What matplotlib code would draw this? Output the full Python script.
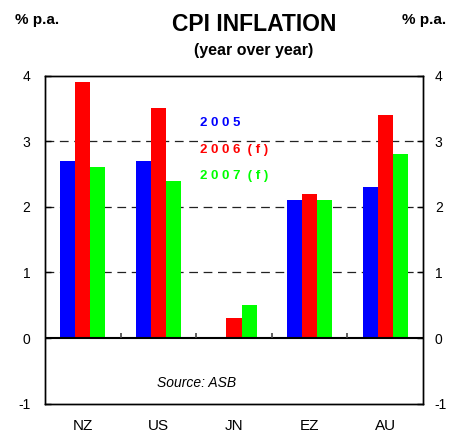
import matplotlib
matplotlib.use("Agg")
import matplotlib.pyplot as plt
import numpy as np

categories = ["NZ", "US", "JN", "EZ", "AU"]
series_names = ["2 0 0 5", "2 0 0 6  ( f )", "2 0 0 7  ( f )"]
v2005 = [2.7, 2.7, 0.0, 2.1, 2.3]
v2006 = [3.9, 3.5, 0.3, 2.2, 3.4]
v2007 = [2.6, 2.4, 0.5, 2.1, 2.8]
yticks = [-1, 0, 1, 2, 3, 4]
colors = ["#0000FF", "#FF0000", "#00FF00"]

plt.rcParams['font.family'] = ['Liberation Sans', 'DejaVu Sans']

fig = plt.figure(figsize=(4.5, 4.32), dpi=100)
ax = fig.add_axes([0.1, 0.0655, 0.84, 0.7597])

x = np.arange(len(categories))
w = 0.2
for i, (vals, c) in enumerate(zip([v2005, v2006, v2007], colors)):
    ax.bar(x + (i - 1) * w, vals, width=w, color=c, edgecolor='none', zorder=2)

ax.set_xlim(-0.5, len(categories) - 0.5)
ax.set_ylim(-1, 4)

for g in [1, 2, 3]:
    ax.axhline(g, color='#222222', lw=0.9, linestyle=(0, (7, 4.5)), zorder=1)
ax.axhline(0, color='black', lw=1.5, zorder=3)
bounds = x[:-1] + 0.5
ax.vlines(bounds, 0, 0.08, color='#444444', lw=1.2, zorder=3)

ax.set_xticks(x)
ax.set_xticklabels(categories, fontsize=11)
ax.tick_params(axis='x', length=0, pad=11)
ax.set_yticks(yticks)
ax.set_yticklabels([str(t) for t in yticks], fontsize=10)
ax.tick_params(axis='y', direction='in', length=4, pad=10.5, width=1)

ax2 = ax.twinx()
ax2.set_ylim(-1, 4)
ax2.set_yticks(yticks)
ax2.set_yticklabels([str(t) for t in yticks], fontsize=10)
ax2.tick_params(axis='y', direction='in', length=4, pad=8.5, width=1)

for a in (ax, ax2):
    for s in a.spines.values():
        s.set_linewidth(1.0)
        s.set_color('black')

legend_y = [3.28, 2.87, 2.47]
for name, c, yy in zip(series_names, colors, legend_y):
    ax.text(1.55, yy, name, color=c, fontsize=9.5, fontweight='bold',
            ha='left', va='center', zorder=4)

ax.text(1.51, -0.68, "Source: ASB", fontsize=10, fontstyle='italic',
        ha='center', va='center')

fig.text(0.564, 0.944, "CPI INFLATION", fontsize=16.5, fontweight='bold',
         ha='center', va='center')
fig.text(0.564, 0.882, "(year over year)", fontsize=11.5, fontweight='bold',
         ha='center', va='center')
fig.text(0.033, 0.953, "% p.a.", fontsize=11, fontweight='bold',
         ha='left', va='center')
fig.text(0.893, 0.953, "% p.a.", fontsize=11, fontweight='bold',
         ha='left', va='center')

fig.savefig("out.png", dpi=100)
